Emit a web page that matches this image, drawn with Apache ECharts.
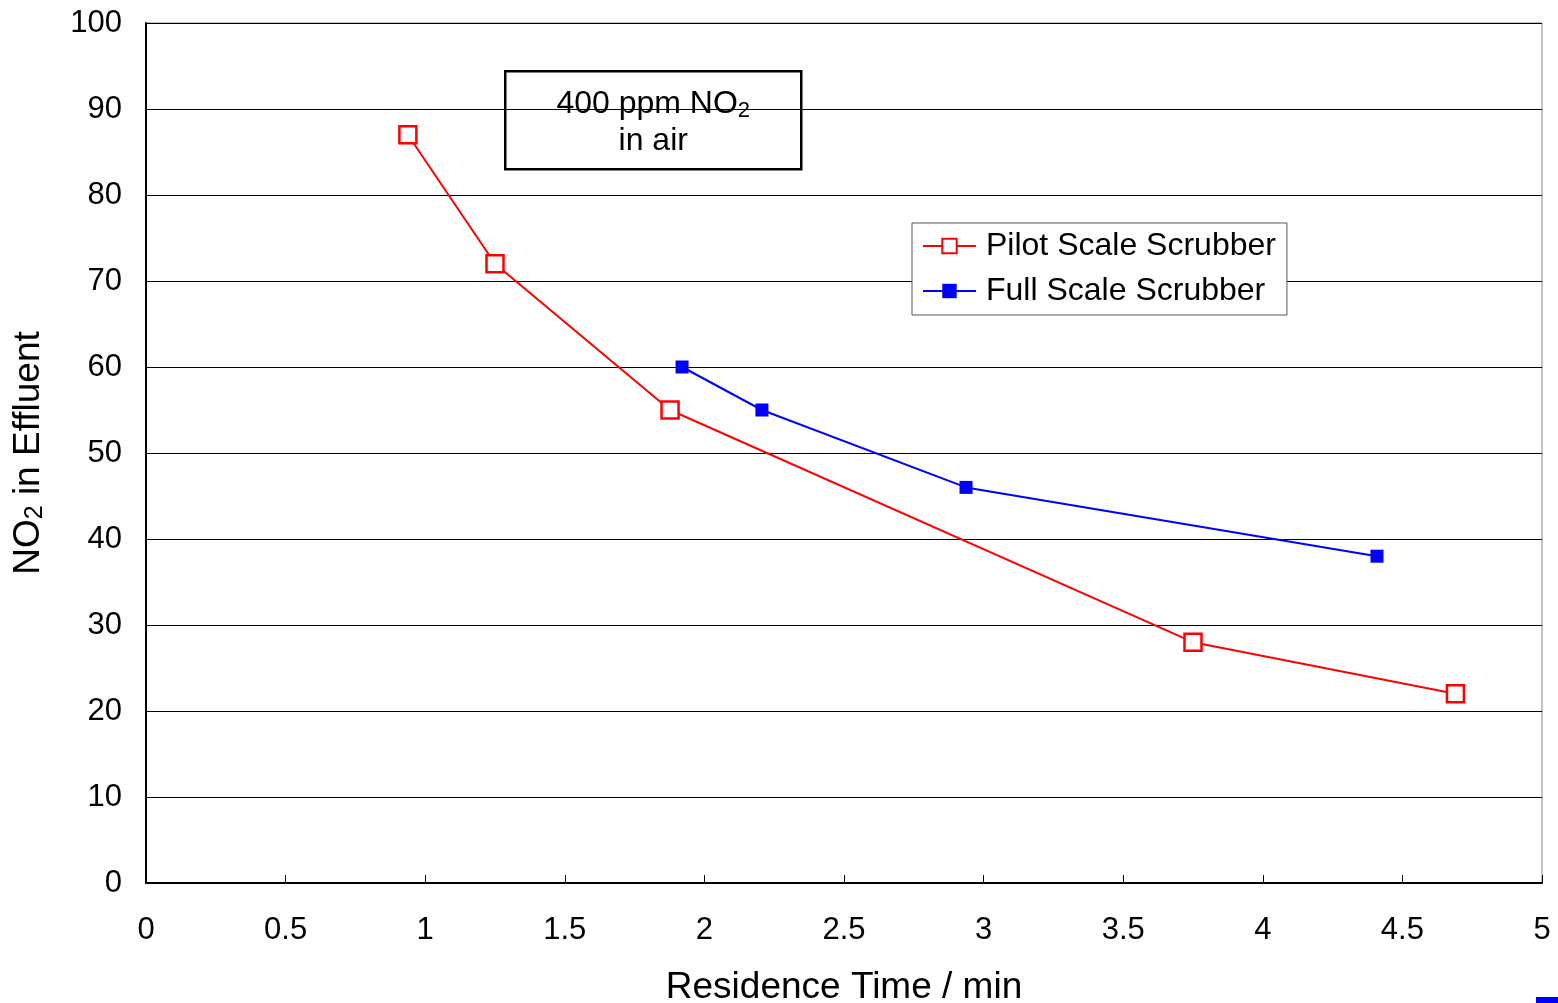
<!DOCTYPE html>
<html>
<head>
<meta charset="utf-8">
<script src="https://cdn.jsdelivr.net/npm/echarts@6/dist/echarts.min.js"></script>
<style>html,body{margin:0;padding:0;background:#fff;}#c{width:1558px;height:1003px;}</style>
</head>
<body>
<div id="c"></div>
<script>
const pilotX = [0.938, 1.25, 1.877, 3.75, 4.69];
const pilotY = [87, 72, 55, 28, 22];
const fullX = [1.92, 2.206, 2.937, 4.409];
const fullY = [60, 55, 46, 38];
const seriesNames = ['Pilot Scale Scrubber', 'Full Scale Scrubber'];
const xTitle = 'Residence Time / min';
const annotation = ['400 ppm NO', '2', 'in air'];

const font = 'Arial, "Liberation Sans", sans-serif';
const chart = echarts.init(document.getElementById('c'));
const zip = (xs, ys) => xs.map((x, i) => [x, ys[i]]);

chart.setOption({
  animation: false,
  backgroundColor: '#fff',
  textStyle: { fontFamily: font, color: '#000' },
  grid: { left: 146, right: 16, top: 23, bottom: 120, containLabel: false, outerBoundsMode: 'none',
          show: true, borderColor: '#888', borderWidth: 1, backgroundColor: '#fff' },
  xAxis: {
    type: 'value', min: 0, max: 5, interval: 0.5,
    name: xTitle, nameLocation: 'middle', nameGap: 86,
    nameTextStyle: { fontSize: 37, fontFamily: font, color: '#000' },
    axisLine: { show: true, lineStyle: { color: '#000', width: 2 } },
    axisTick: { show: true, inside: true, length: 8, lineStyle: { color: '#000', width: 1 } },
    axisLabel: { fontSize: 31, color: '#000', margin: 32, fontFamily: font },
    splitLine: { show: false }
  },
  yAxis: {
    type: 'value', min: 0, max: 100, interval: 10,
    name: '{n|NO}{s|2}{n| in Effluent}', nameLocation: 'middle', nameGap: 98, nameRotate: 90,
    nameTextStyle: {
      fontFamily: font, color: '#000',
      rich: {
        n: { fontSize: 37, fontFamily: font, color: '#000' },
        s: { fontSize: 25, fontFamily: font, color: '#000', verticalAlign: 'bottom', padding: [14, 0, 0, 0] }
      }
    },
    axisLine: { show: true, lineStyle: { color: '#000', width: 2 } },
    axisTick: { show: false },
    axisLabel: { fontSize: 31, color: '#000', margin: 24, fontFamily: font },
    splitLine: { show: true, lineStyle: { color: '#000', width: 1 } }
  },
  legend: {
    orient: 'vertical', left: 912, top: 223,
    padding: [7, 11, 8, 10],
    itemGap: 13, itemWidth: 53, itemHeight: 18,
    backgroundColor: '#fff', borderColor: '#555', borderWidth: 1,
    textStyle: { fontSize: 32, color: '#000', fontFamily: font, padding: [0, 0, 0, 5] },
    data: seriesNames
  },
  series: [
    {
      name: seriesNames[0], type: 'line', data: zip(pilotX, pilotY),
      symbol: 'rect', symbolSize: 17,
      lineStyle: { color: '#ff0000', width: 2 },
      itemStyle: { color: '#fff', borderColor: '#ff0000', borderWidth: 2.5 },
      z: 3
    },
    {
      name: seriesNames[1], type: 'line', data: zip(fullX, fullY),
      symbol: 'rect', symbolSize: 13,
      lineStyle: { color: '#0000ff', width: 2 },
      itemStyle: { color: '#0000ff', borderColor: '#0000ff', borderWidth: 0 },
      z: 4
    }
  ],
  graphic: [
    {
      type: 'group', left: 504, top: 70, z: 10,
      children: [
        { type: 'rect', shape: { x: 0, y: 0, width: 296, height: 98 }, style: { fill: '#fff', stroke: '#000', lineWidth: 2.5 } },
        { type: 'text', x: 148, y: 33, style: {
            text: '{n|' + annotation[0] + '}{s|' + annotation[1] + '}', align: 'center', verticalAlign: 'middle',
            rich: { n: { fontSize: 32, fontFamily: font, fill: '#000' }, s: { fontSize: 22, fontFamily: font, fill: '#000', padding: [14, 0, 0, 0] } }
        } },
        { type: 'text', x: 148, y: 70, style: { text: annotation[2], align: 'center', verticalAlign: 'middle', fontSize: 32, fontFamily: font, fill: '#000' } }
      ]
    },
    { type: 'rect', left: 1536, top: 997, shape: { width: 22, height: 6 }, style: { fill: '#0000ff' } }
  ]
});
</script>
</body>
</html>
